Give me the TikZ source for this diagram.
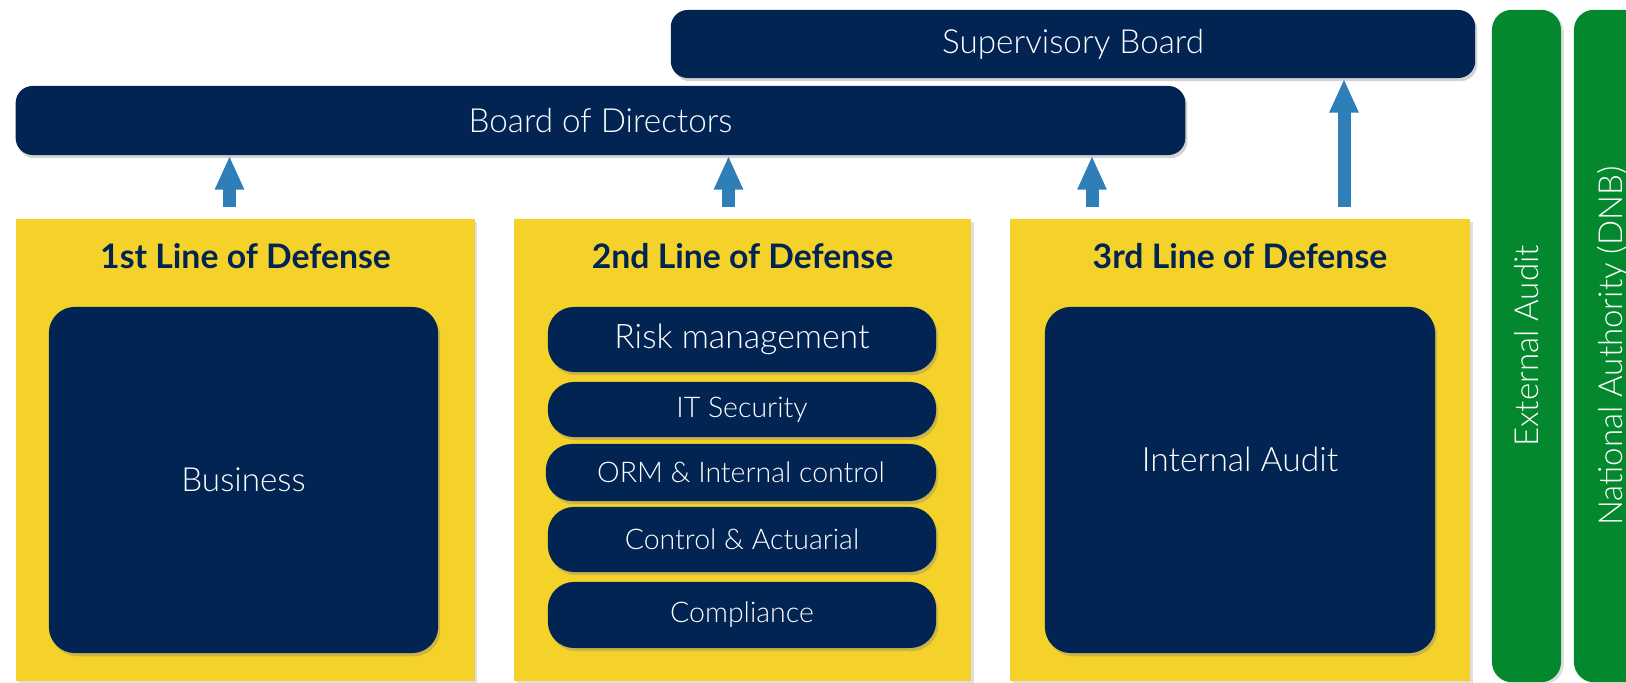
\documentclass[tikz,border=0pt]{standalone}
\usepackage{fontspec}
\setmainfont{Lato}
\newfontfamily\lightfont{Lato Light}
\usetikzlibrary{positioning,calc,shadows,arrows.meta}
\definecolor{navy}{RGB}{1,36,82}
\definecolor{lodyellow}{RGB}{245,210,42}
\definecolor{auditgreen}{RGB}{3,136,45}
\definecolor{arrowblue}{RGB}{46,126,183}

\tikzset{
  navybox/.style={fill=navy, rounded corners=0.17cm, text=white, inner sep=0pt,
    font=\lightfont\fontsize{9.45}{11}\selectfont,
    drop shadow={opacity=0.35, shadow xshift=0.6pt, shadow yshift=-0.9pt}},
  pill/.style={navybox, rounded corners=0.26cm, minimum width=3.88cm,
    font=\lightfont\fontsize{8.1}{10}\selectfont},
  linebox/.style={fill=lodyellow, inner sep=0pt, minimum width=4.58cm, minimum height=4.62cm,
    drop shadow={opacity=0.25, shadow xshift=0.8pt, shadow yshift=-0.8pt}},
  linetitle/.style={text=navy, anchor=base, font=\bfseries\fontsize{9.6}{11}\selectfont},
  greenbox/.style={fill=auditgreen, rounded corners=0.2cm, text=white, inner sep=0pt, rotate=90,
    minimum width=6.72cm, minimum height=0.69cm, font=\lightfont\fontsize{9.4}{11}\selectfont,
    drop shadow={opacity=0.25, shadow xshift=0.8pt, shadow yshift=-0.6pt}},
  uparrow/.style={draw=arrowblue, line width=0.13cm, -{Triangle[width=0.27cm, length=0.34cm]}}
}

\begin{document}
\begin{tikzpicture}[x=0.01cm, y=-0.01cm] % % pixel grid, y going down
  \useasboundingbox (0,0) rectangle (1626,683);

  % boards on top
  \node[navybox, minimum width=8.04cm, minimum height=0.68cm] (sb) at (1073,44) {Supervisory Board};
  \node[navybox, minimum width=11.69cm, minimum height=0.69cm] (bod) at (600.5,120.5) {Board of Directors};

  % the three lines of defense
  \node[linebox] (line1) at (245.5,450) {};
  \node[linebox, minimum width=4.57cm] (line2) at (742.5,450) {};
  \node[linebox, minimum width=4.60cm] (line3) at (1240,450) {};
  \node[linetitle] (title1) at (245.5,269) {1st Line of Defense};
  \node[linetitle] (title2) at (742.5,269) {2nd Line of Defense};
  \node[linetitle] (title3) at (1240,269) {3rd Line of Defense};

  % contents
  \node[navybox, rounded corners=0.26cm, minimum width=3.89cm, minimum height=3.46cm] (business) at (243.5,480) {Business};
  \node[pill, minimum height=0.65cm, font=\lightfont\fontsize{9.6}{11}\selectfont] (risk) at (742,339.5) {Risk management};
  \node[pill, minimum height=0.55cm] (itsec) at (742,409.5) {IT Security};
  \node[pill, minimum height=0.57cm, minimum width=3.90cm] (orm) at (741,472.5) {ORM \& Internal control};
  \node[pill, minimum height=0.65cm] (actuarial) at (742,539.5) {Control \& Actuarial};
  \node[pill, minimum height=0.66cm] (compliance) at (742,615) {Compliance};
  \node[navybox, rounded corners=0.26cm, minimum width=3.90cm, minimum height=3.46cm] (audit) at (1240,480) {};
  \node[text=white, font=\lightfont\fontsize{9.55}{11}\selectfont] (auditlbl) at (1240,459) {Internal Audit};

  % external parties
  \node[greenbox] (extaudit) at (1526.5,346) {External Audit};
  \node[greenbox, minimum height=0.78cm] (dnb) at (1613,346) {National Authority (DNB)};

  % reporting arrows
  \coordinate (a1) at ($(line1.north)+(-16,-11)$);
  \coordinate (a2) at ($(line2.north)+(-14,-11)$);
  \coordinate (a3) at ($(line3.north)+(-148,-11)$);
  \coordinate (a4) at ($(line3.north)+(104,-11)$);
  \draw[uparrow] (a1) -- (a1 |- bod.south);
  \draw[uparrow] (a2) -- (a2 |- bod.south);
  \draw[uparrow] (a3) -- (a3 |- bod.south);
  \draw[uparrow] (a4) -- (a4 |- sb.south);
\end{tikzpicture}
\end{document}
